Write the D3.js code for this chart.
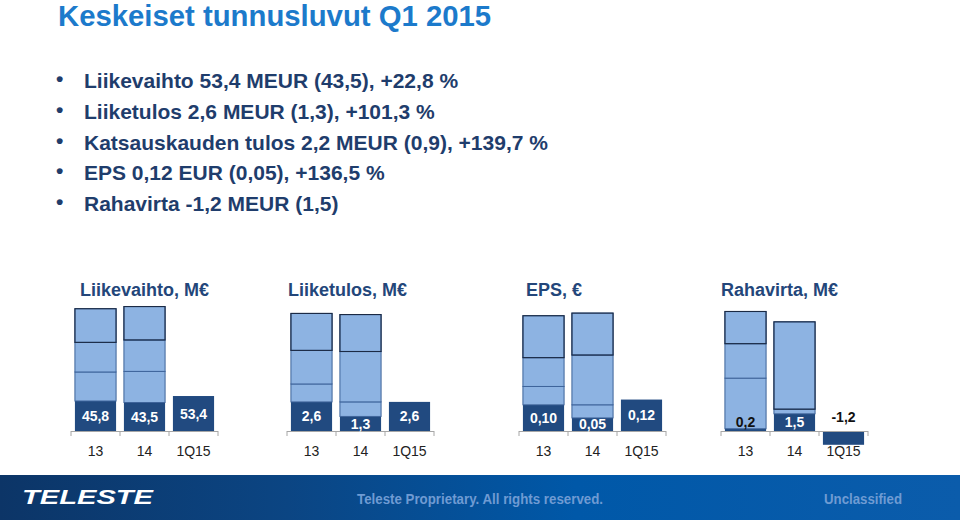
<!DOCTYPE html>
<meta charset="utf-8">
<style>
  body { margin: 0; background: #fff; }
  svg { display: block; font-family: "Liberation Sans", Arial, sans-serif; }
  .bullet { fill: #1f3d6c; font-weight: bold; font-size: 21px; }
  .panel-title { fill: #23467a; font-weight: bold; font-size: 18px; }
  .cat { fill: #222; font-size: 14px; }
  .axis line, .axis path { stroke: #a6a6a6; }
</style>
<body>
<script src="https://cdn.jsdelivr.net/npm/d3@7"></script>
<script>
  // slide texts
  var title = "Keskeiset tunnusluvut Q1 2015"
  var bullets = [
    "Liikevaihto 53,4 MEUR (43,5), +22,8 %",
    "Liiketulos 2,6 MEUR (1,3), +101,3 %",
    "Katsauskauden tulos 2,2 MEUR (0,9), +139,7 %",
    "EPS 0,12 EUR (0,05), +136,5 %",
    "Rahavirta -1,2 MEUR (1,5)"
  ]

  // chart data: one row per panel, one value per category
  var categories = ["13", "14", "1Q15"]
  var panelTitles = ["Liikevaihto, M€", "Liiketulos, M€", "EPS, €", "Rahavirta, M€"]
  var q1 = [[45.8, 43.5, 53.4], [2.6, 1.3, 2.6], [0.10, 0.05, 0.12], [0.2, 1.5, -1.2]]
  var q2 = [[44.3, 47.5, 0], [1.6, 1.3, 0], [0.07, 0.05, 0], [4.4, 0.4, 0]]
  var q3 = [[45.2, 48.0, 0], [3.0, 4.5, 0], [0.11, 0.19, 0], [3.0, 0, 0]]
  var q4 = [[51.4, 51.0, 0], [3.3, 3.3, 0], [0.16, 0.16, 0], [2.8, 7.6, 0]]
  var yMax = [200, 11.7, 0.5, 11.4]
  var decimals = [1, 1, 2, 1]

  var width = 960
  var height = 520
  var panelX = [71, 287, 519, 721]
  var panelW = 147
  var baseY = 431
  var topY = 300

  var fi = d3.formatLocale({ decimal: ",", thousands: " ", grouping: [3], currency: ["", "€"], minus: "-" })

  var svg = d3.select("body").append("svg")
    .attr("width", width)
    .attr("height", height)

  svg.append("text")
    .attr("x", 58)
    .attr("y", 26)
    .attr("fill", "#1c7acb")
    .attr("font-weight", "bold")
    .attr("font-size", 29.3)
    .text(title)

  var bl = svg.append("g")
  bullets.forEach(function (b, i) {
    var y = 88 + i * 30.8
    bl.append("text").attr("class", "bullet").attr("x", 56).attr("y", y - 2)
      .attr("font-size", 14).text("•")
    bl.append("text").attr("class", "bullet").attr("x", 84).attr("y", y).text(b)
  })

  var keys = ["q1", "q2", "q3", "q4"]

  panelTitles.forEach(function (pt, p) {
    var g = svg.append("g")

    var x = d3.scaleBand()
      .domain(categories)
      .range([panelX[p], panelX[p] + panelW])
      .paddingInner(0.16)
      .paddingOuter(0.08)

    var y = d3.scaleLinear()
      .domain([0, yMax[p]])
      .range([baseY, topY])

    var rows = categories.map(function (c, i) {
      return { cat: c, q1: q1[p][i], q2: q2[p][i], q3: q3[p][i], q4: q4[p][i] }
    })

    var series = d3.stack().keys(keys).offset(d3.stackOffsetDiverging)(rows)

    g.append("text")
      .attr("class", "panel-title")
      .attr("x", [80, 288, 526, 721][p])
      .attr("y", 296)
      .text(pt)

    series.forEach(function (s, k) {
      g.selectAll(null)
        .data(s.filter(function (d) { return d[1] !== d[0] }))
        .enter().append("rect")
        .attr("x", function (d) { return x(d.data.cat) })
        .attr("width", x.bandwidth())
        .attr("y", function (d) { return y(Math.max(d[0], d[1])) })
        .attr("height", function (d) { return Math.abs(y(d[0]) - y(d[1])) })
        .attr("fill", k === 0 ? "#214a80" : "#8db3e2")
        .attr("stroke", k === 0 ? "none" : "#3d639a")
        .attr("stroke-width", 1)
    })

    // last quarter gets the dark frame
    g.selectAll(null)
      .data(series[3].filter(function (d) { return d[1] !== d[0] }))
      .enter().append("rect")
      .attr("x", function (d) { return x(d.data.cat) })
      .attr("width", x.bandwidth())
      .attr("y", function (d) { return y(d[1]) })
      .attr("height", function (d) { return y(d[0]) - y(d[1]) })
      .attr("fill", "none")
      .attr("stroke", "#1b2a44")
      .attr("stroke-width", 1.1)

    // axis line with ticks between categories
    var ax = g.append("g").attr("class", "axis")
    ax.append("line")
      .attr("x1", panelX[p]).attr("x2", panelX[p] + panelW)
      .attr("y1", y(0) + 0.5).attr("y2", y(0) + 0.5)
    var tickPos = [panelX[p]].concat(categories.map(function (c) {
      return x(c) + x.bandwidth() + x.step() * x.paddingInner() / 2
    }))
    tickPos[3] = panelX[p] + panelW
    ax.selectAll(null).data(tickPos).enter().append("line")
      .attr("x1", function (d) { return d }).attr("x2", function (d) { return d })
      .attr("y1", y(0)).attr("y2", y(0) + 5)

    g.selectAll(null)
      .data(categories)
      .enter().append("text")
      .attr("class", "cat")
      .attr("x", function (c) { return x(c) + x.bandwidth() / 2 })
      .attr("y", 456)
      .attr("text-anchor", "middle")
      .text(function (c) { return c })

    // value labels of the first quarter
    var fmt = fi.format("." + decimals[p] + "f")
    function outside(d) {
      return d.data.q1 < 0 || Math.abs(y(d[0]) - y(d[1])) < 12
    }
    g.selectAll(null)
      .data(series[0])
      .enter().append("text")
      .attr("x", function (d) { return x(d.data.cat) + x.bandwidth() / 2 })
      .attr("y", function (d) {
        if (d.data.q1 < 0) return y(0) - 9
        if (outside(d)) return y(d[1]) - 2
        return (y(d[0]) + y(d[1])) / 2 + 5
      })
      .attr("text-anchor", "middle")
      .attr("font-weight", "bold")
      .attr("font-size", 14)
      .attr("fill", function (d) { return outside(d) ? "#111" : "#fff" })
      .text(function (d) { return fmt(d.data.q1) })
  })

  // footer band
  var defs = svg.append("defs")
  var grad = defs.append("linearGradient").attr("id", "foot")
  grad.append("stop").attr("offset", "0%").attr("stop-color", "#0c3567")
  grad.append("stop").attr("offset", "30%").attr("stop-color", "#0b4583")
  grad.append("stop").attr("offset", "60%").attr("stop-color", "#0058a8")
  grad.append("stop").attr("offset", "100%").attr("stop-color", "#0b5cab")

  svg.append("rect")
    .attr("x", 0).attr("y", 475)
    .attr("width", width).attr("height", 45)
    .attr("fill", "url(#foot)")

  svg.append("text")
    .attr("x", 22).attr("y", 504)
    .attr("fill", "#fff")
    .attr("font-weight", "bold")
    .attr("font-style", "italic")
    .attr("font-size", 20)
    .attr("textLength", 131)
    .attr("lengthAdjust", "spacingAndGlyphs")
    .text("TELESTE")

  svg.append("text")
    .attr("x", 357).attr("y", 504)
    .attr("fill", "#6f9bd3")
    .attr("font-weight", "bold")
    .attr("font-size", 14)
    .attr("textLength", 246)
    .attr("lengthAdjust", "spacingAndGlyphs")
    .text("Teleste Proprietary. All rights reserved.")

  svg.append("text")
    .attr("x", 824).attr("y", 504)
    .attr("fill", "#6f9bd3")
    .attr("font-weight", "bold")
    .attr("font-size", 14)
    .attr("textLength", 78)
    .attr("lengthAdjust", "spacingAndGlyphs")
    .text("Unclassified")
</script>
</body>
